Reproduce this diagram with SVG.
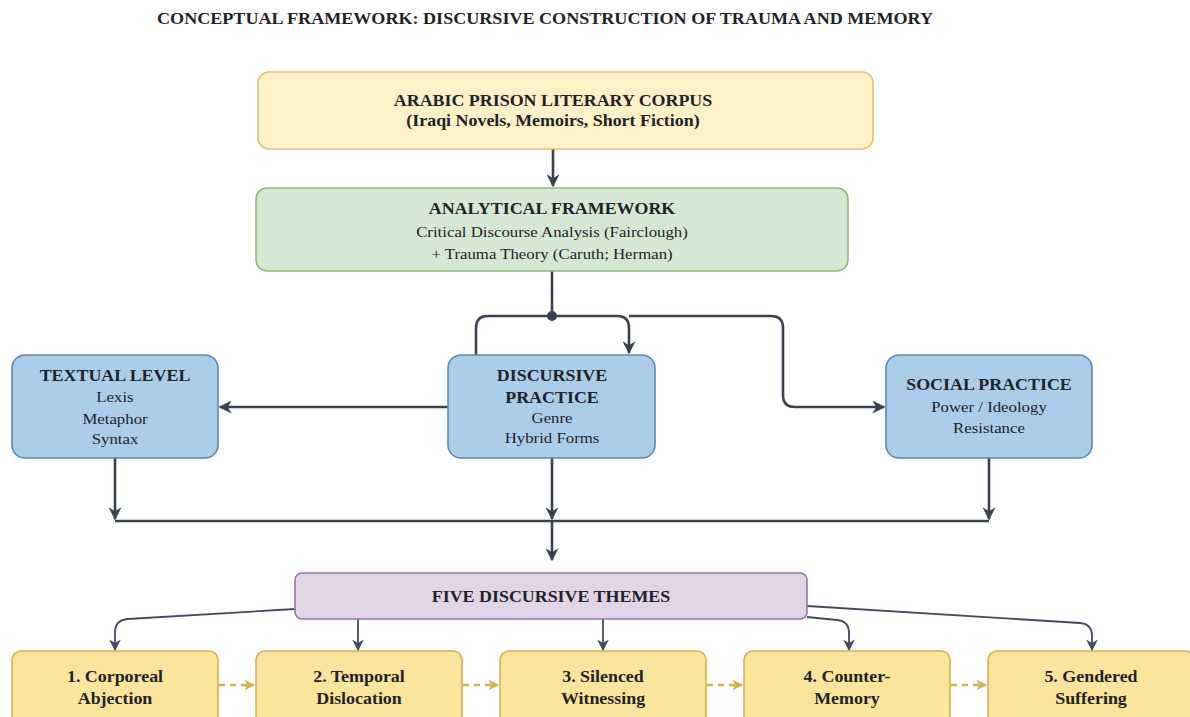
<svg xmlns="http://www.w3.org/2000/svg" width="1190" height="717" viewBox="0 0 1190 717">
<style>
text{font-family:"Liberation Serif","Times New Roman",serif;text-anchor:middle;fill:#1f2328}
.t{font-size:16px;font-weight:bold}
.h{font-size:16px;font-weight:bold}
.b{font-size:15px}
.box{stroke-width:1.6}
.corpus{fill:#fdf1c8;stroke:#d9c27a}
.frame{fill:#d5e8d4;stroke:#8fb77a}
.blue{fill:#aacdea;stroke:#5f86b0}
.purple{fill:#e1d5e7;stroke:#9673a6}
.theme{fill:#fbe49c;stroke:#d2b24f}
.c{fill:none;stroke:#3a424e;stroke-width:2.6}
.c2{fill:none;stroke:#434c5e;stroke-width:1.8}
.d{fill:none;stroke:#d2b24f;stroke-width:2.4;stroke-dasharray:6 5}
</style>
<defs>
<marker id="ah" viewBox="0 0 10 10" refX="9" refY="5" markerWidth="5" markerHeight="5" orient="auto" markerUnits="strokeWidth">
<path d="M0,0 L10,5 L0,10 L3,5 z" fill="#3a424e"/>
</marker>
<marker id="ah2" viewBox="0 0 10 10" refX="9" refY="5" markerWidth="6.5" markerHeight="6.5" orient="auto" markerUnits="strokeWidth">
<path d="M0,0 L10,5 L0,10 L3,5 z" fill="#434c5e"/>
</marker>
<marker id="ahy" viewBox="0 0 10 10" refX="9" refY="5" markerWidth="4.5" markerHeight="4.5" orient="auto" markerUnits="strokeWidth">
<path d="M0,0 L10,5 L0,10 L3,5 z" fill="#d2b24f"/>
</marker>
</defs>
<rect width="1190" height="717" fill="#ffffff"/>

<g id="title" transform="translate(545,0) scale(1.13,1)"><text class="t" x="0" y="24">CONCEPTUAL FRAMEWORK: DISCURSIVE CONSTRUCTION OF TRAUMA AND MEMORY</text></g>

<g id="connectors">
<path class="c" d="M553,149 V186" marker-end="url(#ah)"/>
<path class="c" d="M552,271 V316"/>
<circle cx="552" cy="316" r="5" fill="#3a424e"/>
<path class="c" d="M552,316 H488 Q476,316 476,328 V355"/>
<path class="c" d="M552,316 H617 Q629,316 629,328 V353" marker-end="url(#ah)"/>
<path class="c" d="M629,316 H771 Q783,316 783,328 V395 Q783,407 795,407 H884" marker-end="url(#ah)"/>
<path class="c" d="M448,407 H220" marker-end="url(#ah)"/>
<path class="c" d="M115,458 V519" marker-end="url(#ah)"/>
<path class="c" d="M552,458 V519" marker-end="url(#ah)"/>
<path class="c" d="M989,458 V519" marker-end="url(#ah)"/>
<path class="c" d="M115,521 H989" stroke-width="3.2"/>
<path class="c" d="M552,521 V560" marker-end="url(#ah)"/>
<path class="c2" d="M295,609 L128,619 Q115,620 115,632 V650" marker-end="url(#ah2)"/>
<path class="c2" d="M358,619 V650" marker-end="url(#ah2)"/>
<path class="c2" d="M603,619 V650" marker-end="url(#ah2)"/>
<path class="c2" d="M807,617 L837,620 Q849,621 849,633 V650" marker-end="url(#ah2)"/>
<path class="c2" d="M807,606 L1080,623 Q1092,624 1092,636 V650" marker-end="url(#ah2)"/>
<path class="d" d="M219,685 H254" marker-end="url(#ahy)"/>
<path class="d" d="M463,685 H498" marker-end="url(#ahy)"/>
<path class="d" d="M707,685 H742" marker-end="url(#ahy)"/>
<path class="d" d="M951,685 H986" marker-end="url(#ahy)"/>
</g>

<g id="corpus">
<rect class="box corpus" x="258" y="72" width="615" height="77" rx="11"/>
<g transform="translate(553,0) scale(1.12,1)">
<text class="h" x="0" y="106">ARABIC PRISON LITERARY CORPUS</text>
<text class="h" x="0" y="126">(Iraqi Novels, Memoirs, Short Fiction)</text>
</g>
</g>

<g id="framework">
<rect class="box frame" x="256" y="188" width="592" height="83" rx="11"/>
<g transform="translate(552,0) scale(1.12,1)">
<text class="h" x="0" y="214">ANALYTICAL FRAMEWORK</text>
<text class="b" x="0" y="237">Critical Discourse Analysis (Fairclough)</text>
<text class="b" x="0" y="259">+ Trauma Theory (Caruth; Herman)</text>
</g>
</g>

<g id="textual">
<rect class="box blue" x="12" y="355" width="206" height="103" rx="13"/>
<g transform="translate(115,0) scale(1.12,1)">
<text class="h" x="0" y="381">TEXTUAL LEVEL</text>
<text class="b" x="0" y="402">Lexis</text>
<text class="b" x="0" y="424">Metaphor</text>
<text class="b" x="0" y="444">Syntax</text>
</g>
</g>

<g id="discursive">
<rect class="box blue" x="448" y="355" width="207" height="103" rx="13"/>
<g transform="translate(552,0) scale(1.12,1)">
<text class="h" x="0" y="381">DISCURSIVE</text>
<text class="h" x="0" y="403">PRACTICE</text>
<text class="b" x="0" y="423">Genre</text>
<text class="b" x="0" y="443">Hybrid Forms</text>
</g>
</g>

<g id="social">
<rect class="box blue" x="886" y="355" width="206" height="103" rx="13"/>
<g transform="translate(989,0) scale(1.12,1)">
<text class="h" x="0" y="390">SOCIAL PRACTICE</text>
<text class="b" x="0" y="412">Power / Ideology</text>
<text class="b" x="0" y="433">Resistance</text>
</g>
</g>

<g id="themes">
<rect class="box purple" x="295" y="573" width="512" height="46" rx="7"/>
<g transform="translate(551,0) scale(1.12,1)"><text class="h" x="0" y="602">FIVE DISCURSIVE THEMES</text></g>
</g>

<g id="theme1">
<rect class="box theme" x="12" y="651" width="206" height="80" rx="9"/>
<g transform="translate(115,0) scale(1.12,1)"><text class="h" x="0" y="682">1. Corporeal</text><text class="h" x="0" y="704">Abjection</text></g>
</g>
<g id="theme2">
<rect class="box theme" x="256" y="651" width="206" height="80" rx="9"/>
<g transform="translate(359,0) scale(1.12,1)"><text class="h" x="0" y="682">2. Temporal</text><text class="h" x="0" y="704">Dislocation</text></g>
</g>
<g id="theme3">
<rect class="box theme" x="500" y="651" width="206" height="80" rx="9"/>
<g transform="translate(603,0) scale(1.12,1)"><text class="h" x="0" y="682">3. Silenced</text><text class="h" x="0" y="704">Witnessing</text></g>
</g>
<g id="theme4">
<rect class="box theme" x="744" y="651" width="206" height="80" rx="9"/>
<g transform="translate(847,0) scale(1.12,1)"><text class="h" x="0" y="682">4. Counter-</text><text class="h" x="0" y="704">Memory</text></g>
</g>
<g id="theme5">
<rect class="box theme" x="988" y="651" width="206" height="80" rx="9"/>
<g transform="translate(1091,0) scale(1.12,1)"><text class="h" x="0" y="682">5. Gendered</text><text class="h" x="0" y="704">Suffering</text></g>
</g>
</svg>
